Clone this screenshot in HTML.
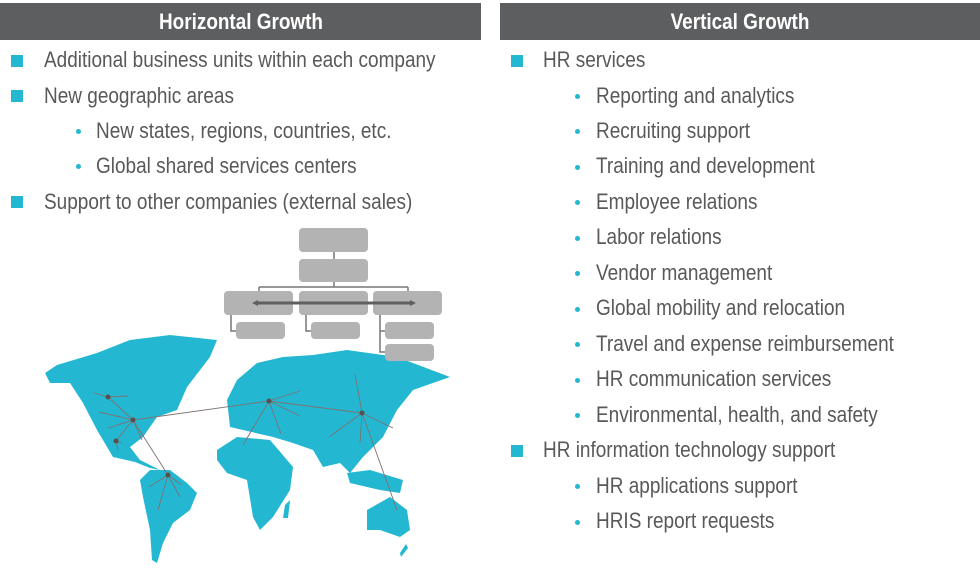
<!DOCTYPE html>
<html><head><style>
body{margin:0;width:980px;height:573px;background:#fff;position:relative;overflow:hidden;font-family:"Liberation Sans",Arial,sans-serif;}
.h{position:absolute;top:3px;height:37px;background:#5d5e60;}
.h span{position:absolute;left:50%;top:0;transform:translateX(-50%) scaleX(0.86);color:#fff;font-size:22px;font-weight:bold;line-height:37px;white-space:nowrap;}
.t{position:absolute;font-size:22px;color:#595959;white-space:nowrap;line-height:24px;transform:scaleX(0.863);transform-origin:0 0;}
.sq{position:absolute;width:12px;height:12px;background:#23b7d2;}
.dt{position:absolute;width:5px;height:5px;border-radius:50%;background:#23b7d2;}
.b{position:absolute;background:#b3b3b3;border-radius:4px;}
</style></head><body>
<div class="h" style="left:0;width:481px"><span>Horizontal Growth</span></div>
<div class="h" style="left:500px;width:480px"><span>Vertical Growth</span></div>

<div class="sq" style="left:11px;top:55px"></div><div class="t" style="left:44px;top:48px">Additional business units within each company</div>
<div class="sq" style="left:11px;top:90px"></div><div class="t" style="left:44px;top:84px">New geographic areas</div>
<div class="dt" style="left:76px;top:129px"></div><div class="t" style="left:96px;top:119px">New states, regions, countries, etc.</div>
<div class="dt" style="left:76px;top:164px"></div><div class="t" style="left:96px;top:154px">Global shared services centers</div>
<div class="sq" style="left:11px;top:196px"></div><div class="t" style="left:44px;top:190px">Support to other companies (external sales)</div>

<div class="sq" style="left:511px;top:55px"></div><div class="t" style="left:543px;top:48px">HR services</div>
<div class="dt" style="left:575px;top:94px"></div><div class="t" style="left:596px;top:84px">Reporting and analytics</div>
<div class="dt" style="left:575px;top:129px"></div><div class="t" style="left:596px;top:119px">Recruiting support</div>
<div class="dt" style="left:575px;top:165px"></div><div class="t" style="left:596px;top:154px">Training and development</div>
<div class="dt" style="left:575px;top:200px"></div><div class="t" style="left:596px;top:190px">Employee relations</div>
<div class="dt" style="left:575px;top:236px"></div><div class="t" style="left:596px;top:225px">Labor relations</div>
<div class="dt" style="left:575px;top:271px"></div><div class="t" style="left:596px;top:261px">Vendor management</div>
<div class="dt" style="left:575px;top:307px"></div><div class="t" style="left:596px;top:296px">Global mobility and relocation</div>
<div class="dt" style="left:575px;top:342px"></div><div class="t" style="left:596px;top:332px">Travel and expense reimbursement</div>
<div class="dt" style="left:575px;top:378px"></div><div class="t" style="left:596px;top:367px">HR communication services</div>
<div class="dt" style="left:575px;top:413px"></div><div class="t" style="left:596px;top:403px">Environmental, health, and safety</div>
<div class="sq" style="left:511px;top:445px"></div><div class="t" style="left:543px;top:438px">HR information technology support</div>
<div class="dt" style="left:575px;top:484px"></div><div class="t" style="left:596px;top:474px">HR applications support</div>
<div class="dt" style="left:575px;top:520px"></div><div class="t" style="left:596px;top:509px">HRIS report requests</div>

<svg style="position:absolute;left:0;top:0" width="980" height="573">
<g fill="#23b7d2">
<path d="M45,373 L57,365 L97,353 L130,340 L170,335 L217,340 L210,357 L187,387 L177,410 L157,417 L143,437 L130,447 L140,460 L160,470 L150,468 L135,462 L113,457 L97,430 L83,403 L70,383 L50,383 Z"/>
<path d="M150,470 L170,470 L187,483 L197,493 L190,510 L173,523 L163,543 L157,563 L152,560 L150,530 L143,497 L140,480 Z"/>
<path d="M227,400 L237,380 L257,363 L283,357 L313,355 L347,350 L397,357 L450,377 L413,390 L397,410 L383,437 L363,457 L350,473 L340,463 L323,467 L313,450 L293,443 L273,437 L243,430 L230,427 Z"/>
<path d="M217,450 L237,437 L270,440 L293,467 L290,490 L273,517 L260,530 L253,517 L247,480 L227,473 L217,460 Z"/>
<path d="M285,505 L290,500 L288,518 L283,518 Z"/>
<path d="M347,473 L370,470 L403,480 L400,493 L380,490 L350,483 Z"/>
<path d="M367,510 L390,497 L407,510 L410,530 L400,537 L380,530 L367,530 Z"/>
<path d="M400,553 L406,544 L408,548 L401,557 Z"/>
</g>
<g stroke="#7d7272" stroke-width="0.9" fill="none">
<path d="M133,420 L269,401 L362,413 M133,420 L168,475 M108,397 L133,420 M94,393 L108,397 L128,396 M99,412 L133,420 M108,428 L133,420 M133,420 L116,441 M133,420 L142,440 M116,441 L118,450 M116,441 L122,443 M168,475 L149,487 M168,475 L158,510 M168,475 L180,497 M168,475 L182,485 M269,401 L300,391 M269,401 L243,445 M269,401 L281,434 M269,401 L300,416 M362,413 L355,374 M362,413 L329,437 M362,413 L360,443 M362,413 L393,428 M362,413 L397,510"/>
</g>
<g fill="#5a4f4f">
<circle cx="133" cy="420" r="2.5"/><circle cx="108" cy="397" r="2.5"/><circle cx="116" cy="441" r="2.5"/><circle cx="168" cy="475" r="2.5"/><circle cx="269" cy="401" r="2.5"/><circle cx="362" cy="413" r="2.5"/>
</g>
<g stroke="#777" stroke-width="1.5" fill="none">
<path d="M334,252 V259 M334,282 V287 M259,287 H408 M259,287 V291 M408,287 V291 M231,315 V331 H236 M306,315 V331 H311 M380,315 V352 H385 M380,331 H385"/>
</g>
</svg>
<div class="b" style="left:299px;top:228px;width:69px;height:24px"></div>
<div class="b" style="left:299px;top:259px;width:69px;height:23px"></div>
<div class="b" style="left:224px;top:291px;width:69px;height:24px"></div>
<div class="b" style="left:299px;top:291px;width:69px;height:24px"></div>
<div class="b" style="left:373px;top:291px;width:69px;height:24px"></div>
<div class="b" style="left:236px;top:322px;width:49px;height:17px"></div>
<div class="b" style="left:311px;top:322px;width:49px;height:17px"></div>
<div class="b" style="left:385px;top:322px;width:49px;height:17px"></div>
<div class="b" style="left:385px;top:344px;width:49px;height:17px"></div>
<svg style="position:absolute;left:0;top:0" width="980" height="573">
<line x1="256" y1="303" x2="412" y2="303" stroke="#5f5f5f" stroke-width="3"/>
<path d="M252,303 L258,300 L258,306 Z M416,303 L410,300 L410,306 Z" fill="#5f5f5f"/>
</svg>
</body></html>
